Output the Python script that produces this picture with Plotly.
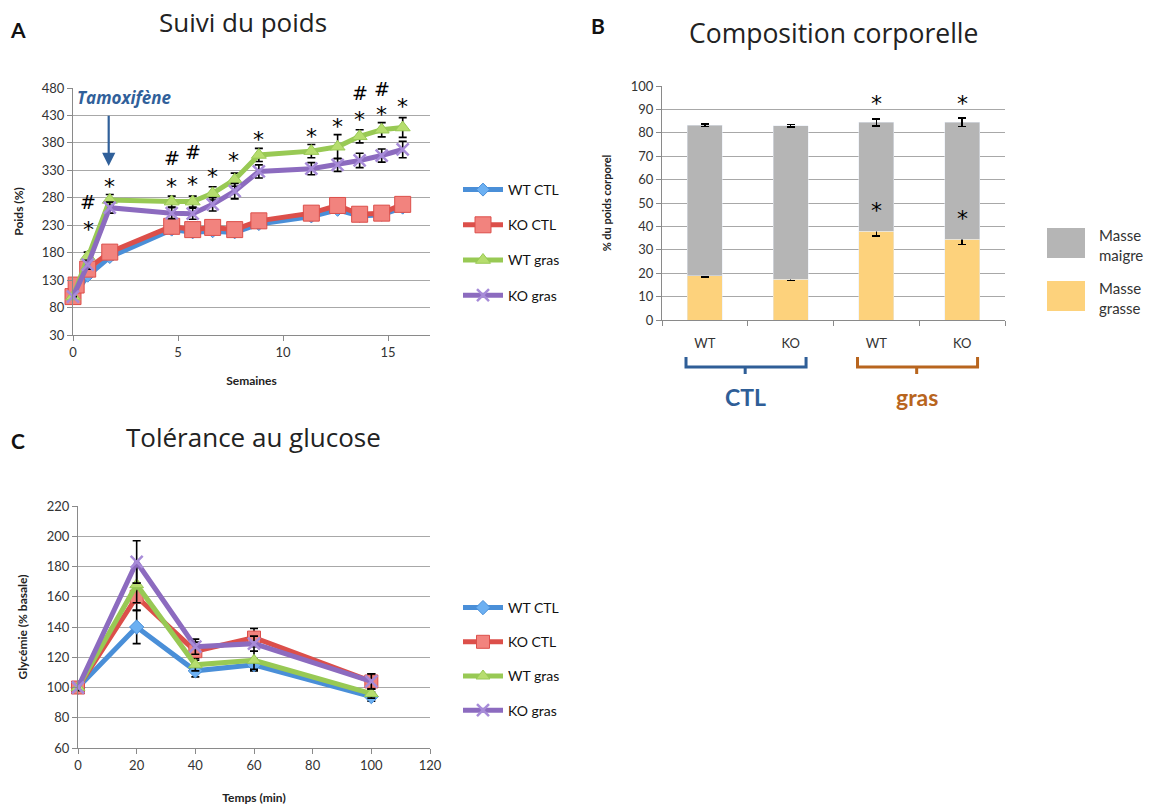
import plotly.graph_objects as go

# ---------------- Data ----------------
# A: body weight follow-up (% of initial weight) vs weeks
weeks = [0, 0.7, 1.75, 4.7, 5.7, 6.65, 7.7, 8.85, 11.35, 12.6, 13.65, 14.7, 15.7]
weeks_ko_ctl = [0, 0.15, 0.7, 1.75, 4.7, 5.7, 6.65, 7.7, 8.85, 11.35, 12.6, 13.65, 14.7, 15.7]
wt_ctl_w = [100, 138, 172, 222, 217, 219, 217, 232, 246, 258, 247, 249, 262]
ko_ctl_w = [100, 121, 150, 181, 228, 222, 226, 222, 238, 252, 266, 250, 252, 268]
wt_gras_w = [100, 173, 276, 273, 273, 288, 313, 358, 365, 373, 392, 404, 408]
ko_gras_w = [100, 158, 262, 252, 251, 268, 292, 328, 333, 340, 348, 357, 368]
wt_ctl_w_err = [0, 4, 5, 5, 5, 5, 5, 5, 5, 5, 5, 5, 5]
ko_ctl_w_err = [0, 0, 4, 5, 5, 5, 5, 5, 5, 5, 5, 5, 5, 5]
wt_gras_w_err = [0, 8, 10, 10, 10, 12, 12, 12, 12, 22, 12, 13, 18]
ko_gras_w_err = [0, 8, 10, 10, 10, 12, 14, 12, 11, 12, 13, 12, 15]

# B: body composition (% of body weight)
groups = ["WT", "KO", "WT", "KO"]
fat_mass = [19.0, 17.5, 38.0, 34.5]
fat_err = [0.6, 0.6, 2.0, 2.2]
lean_mass = [64.2, 65.5, 46.5, 50.0]
total_err = [0.5, 0.5, 1.5, 1.8]

# C: glucose tolerance (% of basal glycaemia) vs time (min)
times = [0, 20, 40, 60, 100]
wt_ctl_g = [100, 140, 111, 115, 94]
ko_ctl_g = [100, 160, 124, 133, 104]
wt_gras_g = [100, 168, 115, 118, 96]
ko_gras_g = [100, 183, 127, 129, 104]
wt_ctl_g_err = [2, 11, 4, 4, 3]
ko_ctl_g_err = [2, 9, 6, 6, 5]
wt_gras_g_err = [2, 12, 4, 6, 3]
ko_gras_g_err = [2, 14, 5, 5, 5]

series_names = ["WT CTL", "KO CTL", "WT gras", "KO gras"]

# ---------------- Styles ----------------
FONT = "Lato"
TITLE_FONT = "Open Sans"
SIG_FONT = "DejaVu Sans"
W, H = 1161, 805
line_col = ["#4a8fd8", "#dc4f4a", "#98c954", "#8c6bbf"]
mk_fill = ["#6cb0f2", "#f2837e", "#b6dd6e", "#a78bd8"]
mk_sym = ["diamond", "square", "triangle-up", "x-thin"]
GRID = "#a8a8a8"
AXIS = "#8a8a8a"
TICKF = dict(family=FONT, size=13, color="#333333")


def px_x(p):
    return p / W


def px_y(p):
    return 1 - p / H


fig = go.Figure()


def add_series(xs, ys, errs, i, xa, ya, legend, msize):
    sym = mk_sym[i]
    marker = dict(symbol=sym, size=msize, color=mk_fill[i],
                  line=dict(color=line_col[i], width=1))
    if sym == "x-thin":
        marker = dict(symbol=sym, size=msize, color=mk_fill[i],
                      line=dict(color=mk_fill[i], width=2.5))
    fig.add_trace(go.Scatter(
        x=xs, y=ys, mode="lines+markers", name=series_names[i],
        line=dict(color=line_col[i], width=5),
        marker=marker,
        error_y=dict(type="data", array=errs, color="black", thickness=1.6, width=4),
        xaxis=xa, yaxis=ya, legend=legend, legendgroup=legend + str(i),
        cliponaxis=False,
    ))


# Panel A
add_series(weeks, wt_ctl_w, wt_ctl_w_err, 0, "x", "y", "legend", 10)
add_series(weeks_ko_ctl, ko_ctl_w, ko_ctl_w_err, 1, "x", "y", "legend", 16)
add_series(weeks, wt_gras_w, wt_gras_w_err, 2, "x", "y", "legend", 13)
add_series(weeks, ko_gras_w, ko_gras_w_err, 3, "x", "y", "legend", 12)

# Panel C
add_series(times, wt_ctl_g, wt_ctl_g_err, 0, "x3", "y3", "legend2", 11)
add_series(times, ko_ctl_g, ko_ctl_g_err, 1, "x3", "y3", "legend2", 13)
add_series(times, wt_gras_g, wt_gras_g_err, 2, "x3", "y3", "legend2", 12)
add_series(times, ko_gras_g, ko_gras_g_err, 3, "x3", "y3", "legend2", 12)

# Panel B: stacked bars
xb = list(range(len(groups)))
fig.add_trace(go.Bar(x=xb, y=fat_mass, name="Masse grasse", marker=dict(color="#fdd27c"),
                     width=0.41, error_y=dict(type="data", array=fat_err, color="black",
                                              thickness=1.6, width=4),
                     xaxis="x2", yaxis="y2", showlegend=False))
fig.add_trace(go.Bar(x=xb, y=lean_mass, name="Masse maigre", marker=dict(color="#b5b5b5"),
                     width=0.41, error_y=dict(type="data", array=total_err, color="black",
                                              thickness=1.6, width=4),
                     xaxis="x2", yaxis="y2", showlegend=False))

ann = []


def text_ann(text, x, y, size, color, family=FONT, xref="paper", yref="paper", **kw):
    d = dict(text=text, x=x, y=y, xref=xref, yref=yref, showarrow=False,
             xanchor="center", yanchor="middle",
             font=dict(family=family, size=size, color=color))
    d.update(kw)
    return d


# panel letters and titles
for txt, x, y in [("A", 18, 30), ("B", 598, 26), ("C", 18, 440)]:
    ann.append(text_ann(f"<b>{txt}</b>", px_x(x), px_y(y), 21, "#111"))
for txt, x, y, s in [("Suivi du poids", 243, 22, 26), ("Composition corporelle", 833, 33, 26.5),
                     ("Tolérance au glucose", 253, 437, 26)]:
    ann.append(text_ann(txt, px_x(x), px_y(y), s, "#222", family=TITLE_FONT))

# significance marks in panel A (week, level, symbol)
sig_a = [(0.72, 234, "*"), (0.72, 273, "#"), (1.75, 312, "*"), (4.7, 312, "*"),
         (4.7, 352, "#"), (5.7, 315, "*"), (5.7, 363, "#"), (6.65, 330, "*"),
         (7.65, 358, "*"), (8.85, 398, "*"), (11.35, 403, "*"), (12.6, 420, "*"),
         (13.65, 434, "*"), (13.65, 471, "#"), (14.7, 443, "*"), (14.7, 478, "#"),
         (15.7, 457, "*"), (15.7, 493, "#")]
for wk, lvl, s in sig_a:
    ann.append(text_ann(s, wk, lvl, 22 if s == "*" else 19, "#000", family=SIG_FONT,
                        xref="x", yref="y", yshift=-6 if s == "*" else 0))

# Tamoxifène arrow
ann.append(text_ann("<b><i>Tamoxifène</i></b>", 2.45, 462, 17, "#30609a",
                    family=TITLE_FONT, xref="x", yref="y"))
ann.append(dict(text="", x=1.7, y=338, ax=1.7, ay=432, xref="x", yref="y",
                axref="x", ayref="y", showarrow=True, arrowhead=2, arrowsize=1.2,
                arrowwidth=2.2, arrowcolor="#30609a"))

# significance marks in panel B: above each error bar of the high-fat groups
for i in (2, 3):
    ann.append(text_ann("*", i, fat_mass[i] + fat_err[i], 22, "#000", family=SIG_FONT,
                        xref="x2", yref="y2", yshift=16))
    ann.append(text_ann("*", i, fat_mass[i] + lean_mass[i] + total_err[i], 22, "#000",
                        family=SIG_FONT, xref="x2", yref="y2", yshift=15))

# group labels under panel B
ann.append(text_ann("<b>CTL</b>", 0.47, px_y(397), 23, "#2f5e97", xref="x2"))
ann.append(text_ann("<b>gras</b>", 2.47, px_y(397), 23, "#b8651e", xref="x2"))

# legend for panel B
ann.append(text_ann("Masse<br>maigre", px_x(1097), px_y(245), 15, "#333",
                    xanchor="left", align="left"))
ann.append(text_ann("Masse<br>grasse", px_x(1097), px_y(298), 15, "#333",
                    xanchor="left", align="left"))

shapes = []
shapes.append(dict(type="rect", xref="paper", yref="paper", x0=px_x(1047), x1=px_x(1085),
                   y0=px_y(258), y1=px_y(228), fillcolor="#b5b5b5", line=dict(width=0)))
shapes.append(dict(type="rect", xref="paper", yref="paper", x0=px_x(1047), x1=px_x(1085),
                   y0=px_y(311), y1=px_y(281), fillcolor="#fdd27c", line=dict(width=0)))


def brace(c, color):
    top, mid, low = px_y(357), px_y(367), px_y(374)
    l, r = c - 0.72, c + 0.68
    path = (f"M {l} {top} L {l} {mid} L {r} {mid} L {r} {top} "
            f"M {c - 0.03} {mid} L {c - 0.03} {low}")
    return dict(type="path", xref="x2", yref="paper", path=path,
                line=dict(color=color, width=3))


shapes.append(brace(0.5, "#2f5e97"))
shapes.append(brace(2.5, "#b8651e"))

common_axis = dict(showline=True, linecolor=AXIS, linewidth=1, ticks="outside",
                   tickcolor=AXIS, ticklen=5, tickfont=TICKF, zeroline=False,
                   automargin=False)
title_font = dict(family=FONT, size=12, color="#222")

fig.update_layout(
    width=W, height=H, margin=dict(l=0, r=0, t=0, b=0, autoexpand=False),
    paper_bgcolor="white", plot_bgcolor="white",
    barmode="stack", showlegend=True,
    annotations=ann, shapes=shapes,
    xaxis=dict(domain=[px_x(73), px_x(430)], range=[0, 17], dtick=5, showgrid=False,
               anchor="y", title=dict(text="<b>Semaines</b>", font=title_font, standoff=18),
               **common_axis),
    yaxis=dict(domain=[px_y(335), px_y(88)], range=[30, 480], dtick=50, tick0=30,
               showgrid=True, gridcolor=GRID, anchor="x",
               title=dict(text="<b>Poids (%)</b>", font=title_font, standoff=15),
               **common_axis),
    xaxis2=dict(domain=[px_x(662), px_x(1005)], range=[-0.5, 3.5], anchor="y2",
                tickvals=xb, ticktext=groups, showgrid=False, showline=True,
                linecolor=AXIS, ticks="", tickfont=dict(family=FONT, size=13, color="#333"),
                zeroline=False, automargin=False, ticklabelstandoff=11,
                minor=dict(tickvals=[-0.5, 0.5, 1.5, 2.5, 3.5], ticks="outside",
                           ticklen=5, tickcolor=AXIS, showgrid=False)),
    yaxis2=dict(domain=[px_y(320), px_y(86)], range=[0, 100], dtick=10,
                showgrid=True, gridcolor=GRID, anchor="x2",
                title=dict(text="<b>% du poids corporel</b>",
                           font=dict(family=FONT, size=11, color="#222"), standoff=16),
                **common_axis),
    xaxis3=dict(domain=[px_x(78), px_x(430)], range=[0, 120], dtick=20, showgrid=False,
                anchor="y3", title=dict(text="<b>Temps (min)</b>", font=title_font, standoff=22),
                **common_axis),
    yaxis3=dict(domain=[px_y(748), px_y(506)], range=[60, 220], dtick=20,
                showgrid=True, gridcolor=GRID, anchor="x3",
                title=dict(text="<b>Glycémie (% basale)</b>", font=title_font, standoff=16),
                **common_axis),
    legend=dict(x=px_x(458), y=px_y(174), xanchor="left", yanchor="top",
                traceorder="grouped", tracegroupgap=14, itemwidth=40,
                font=dict(family=FONT, size=14, color="#111"), bgcolor="rgba(0,0,0,0)"),
    legend2=dict(x=px_x(458), y=px_y(592), xanchor="left", yanchor="top",
                 traceorder="grouped", tracegroupgap=13, itemwidth=40,
                 font=dict(family=FONT, size=14, color="#111"), bgcolor="rgba(0,0,0,0)"),
)

fig.write_html("out.html")
